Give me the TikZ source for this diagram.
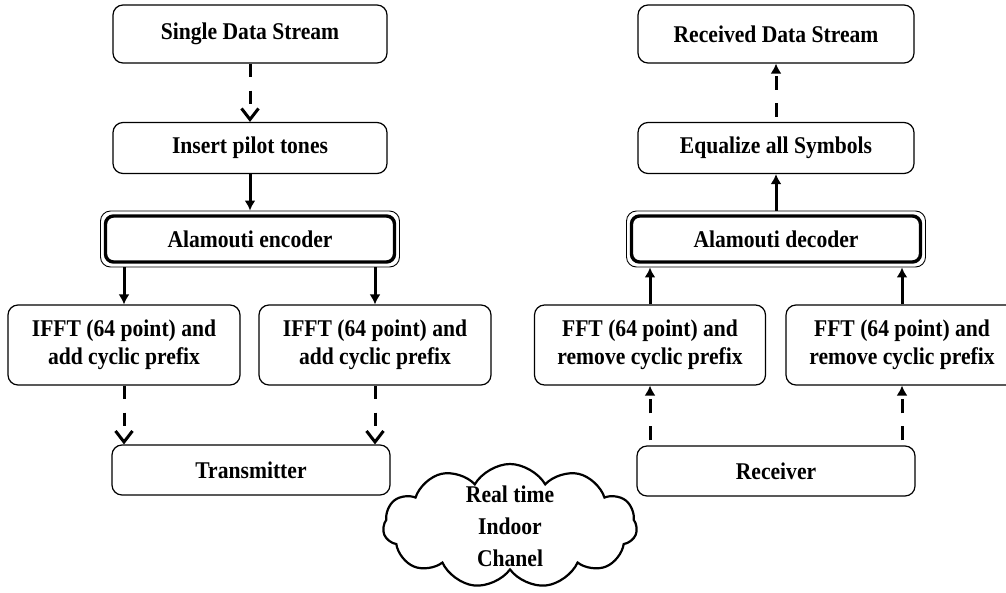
\documentclass[tikz,border=0pt]{standalone}
\usepackage{fontspec}
\setmainfont{Liberation Serif}[FakeStretch=0.9]
\usetikzlibrary{shapes.symbols, arrows.meta}

\begin{document}
\begin{tikzpicture}[x=1pt, y=-1pt,
    block/.style={draw, line width=1.2pt, rounded corners=10pt, align=center, inner sep=0pt,
        font=\bfseries\fontsize{24}{28}\selectfont},
    coder/.style={block, minimum width=299pt, minimum height=56pt, line width=0.9pt,
        path picture={\draw[line width=3.4pt, rounded corners=8pt]
            ([shift={(5pt,-5pt)}]path picture bounding box.north west) rectangle
            ([shift={(-5pt,5pt)}]path picture bounding box.south east);}},
    solidarrow/.style={line width=3pt, -{Latex[length=10pt, width=11pt]}},
    dasharrow/.style={line width=3pt, dash pattern=on 13pt off 14pt, -{Straight Barb[length=11pt, width=17pt]}},
    dashup/.style={line width=3pt, dash pattern=on 14pt off 13pt, dash phase=22pt, -{Latex[length=10pt, width=11pt]}}]
    \useasboundingbox (0, 0) rectangle (1006, 592);
    % transmitter side
    \node[block, minimum width=274pt, minimum height=58pt] (sds) at (250, 34) {Single Data Stream};
    \node[block, minimum width=274pt, minimum height=51pt] (pilot) at (250, 148) {Insert pilot tones};
    \node[coder] (enc) at (250, 239) {Alamouti encoder};
    \node[block, minimum width=232pt, minimum height=80pt] (ifftL) at (124, 345) {IFFT (64 point) and\\add cyclic prefix};
    \node[block, minimum width=232pt, minimum height=80pt] (ifftR) at (375, 345) {IFFT (64 point) and\\add cyclic prefix};
    \node[block, minimum width=278pt, minimum height=50pt] (tx) at (251, 470) {Transmitter};
    % receiver side
    \node[block, minimum width=276pt, minimum height=58pt] (rds) at (776, 34) {Received Data Stream};
    \node[block, minimum width=276pt, minimum height=51pt] (eq) at (776, 148) {Equalize all Symbols};
    \node[coder] (dec) at (776, 239) {Alamouti decoder};
    \node[block, minimum width=231pt, minimum height=80pt] (fftL) at (650, 345) {FFT (64 point) and\\remove cyclic prefix};
    \node[block, minimum width=232pt, minimum height=80pt] (fftR) at (902, 345) {FFT (64 point) and\\remove cyclic prefix};
    \node[block, minimum width=278pt, minimum height=50pt] (rx) at (776, 471) {Receiver};
    % channel
    \node[cloud, draw, line width=2.2pt, cloud puffs=11, cloud puff arc=120, cloud ignores aspect,
        inner xsep=-40pt, inner ysep=-40pt,
        minimum width=254pt, minimum height=124pt, align=center,
        font=\bfseries\fontsize{24}{32}\selectfont] (chan) at (510, 526) {Real time\\Indoor\\Chanel};

    \draw[dasharrow] (sds) -- (pilot);
    \draw[solidarrow] (pilot) -- (enc);
    \draw[solidarrow] (enc.south -| ifftL.north) -- (ifftL.north);
    \draw[solidarrow] (enc.south -| ifftR.north) -- (ifftR.north);
    \draw[dasharrow] (ifftL.south) -- (ifftL.south |- tx.north);
    \draw[dasharrow] (ifftR.south) -- (ifftR.south |- tx.north);

    \draw[dashup] (rx.north -| fftL.south) -- (fftL.south);
    \draw[dashup] (rx.north -| fftR.south) -- (fftR.south);
    \draw[solidarrow] (fftL.north) -- (dec.south -| fftL.north);
    \draw[solidarrow] (fftR.north) -- (dec.south -| fftR.north);
    \draw[solidarrow] (dec) -- (eq);
    \draw[dashup] (eq) -- (rds);
\end{tikzpicture}
\end{document}
